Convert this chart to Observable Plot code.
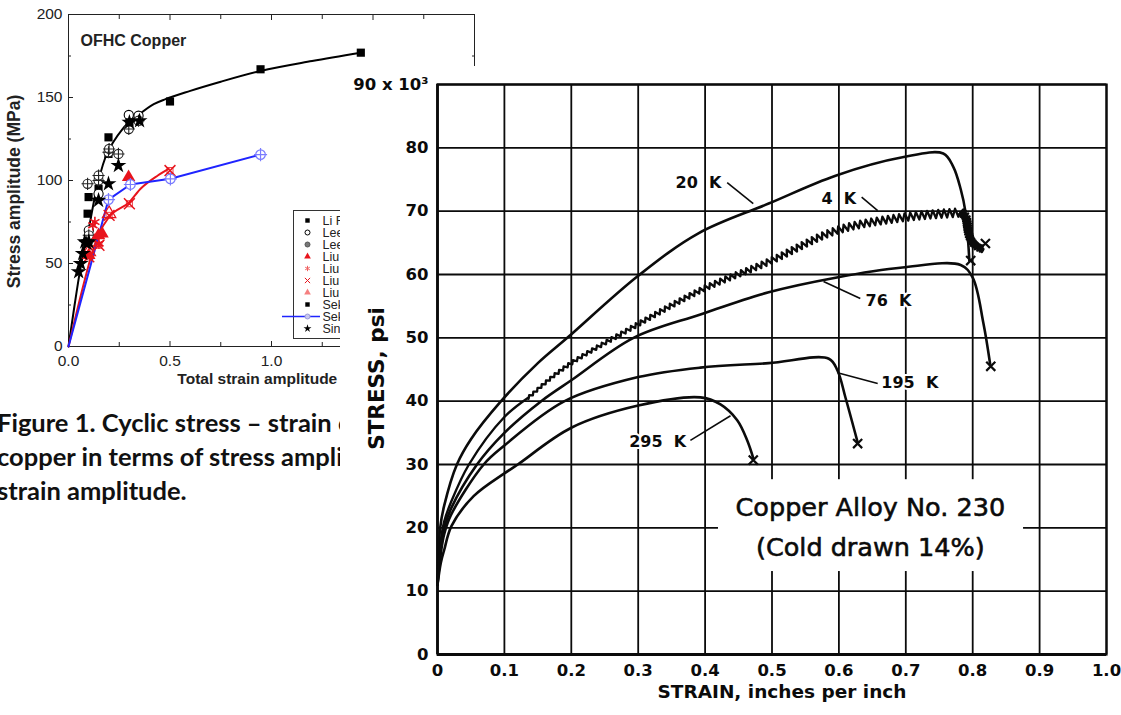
<!DOCTYPE html>
<html>
<head>
<meta charset="utf-8">
<script src="https://cdn.jsdelivr.net/npm/d3@7"></script>
<script src="https://cdn.jsdelivr.net/npm/@observablehq/plot@0.6"></script>
<style>
html,body{margin:0;padding:0;background:#fff;}
#root{position:relative;width:1121px;height:715px;overflow:hidden;background:#fff;}
#left{position:absolute;left:0;top:0;}
#legend{position:absolute;left:280px;top:210px;}
#caption{position:absolute;left:-3px;top:405px;width:343px;overflow:hidden;white-space:nowrap;
  font-family:Lato,'Open Sans',sans-serif;font-weight:bold;font-size:25.5px;line-height:34px;color:#111;}
#right{position:absolute;left:340px;top:66px;}
</style>
</head>
<body>
<div id="root">
  <div id="left"></div>
  <div id="legend"></div>
  <div id="caption">Figure 1. Cyclic stress – strain curves<br>copper in terms of stress amplitude<br>strain amplitude.</div>
  <div id="right"></div>
</div>
<script>
// ================= LEFT CHART (OFHC Copper) =================
const yMajorL = [0, 50, 100, 150, 200];
const yMinorL = [25, 75, 125, 175];
const xMajorL = [0, 0.5, 1.0, 1.5, 2.0];
const xMinorL = [0.25, 0.75, 1.25, 1.75];

// fitted curves
const blackFitX = [0, 0.03, 0.06, 0.1, 0.133, 0.182, 0.22, 0.266, 0.345, 0.42, 0.478, 0.6, 0.75, 0.946, 1.2, 1.44];
const blackFitY = [0, 25, 48, 71, 92, 114, 123, 131, 139.5, 146, 149, 154, 159.5, 166, 172, 177];
const redFitX = [0, 0.08, 0.12, 0.15, 0.2, 0.3, 0.355, 0.44, 0.493];
const redFitY = [0, 40, 58, 68, 78, 87, 95, 103, 107];

// data series
const liRX = [0.094, 0.099, 0.148, 0.197, 0.197];
const liRY = [80, 90, 95, 116, 126];
const leeOpenX = [0.1, 0.148, 0.297, 0.345];
const leeOpenY = [70, 92, 139.5, 139];
const leePlusX = [0.094, 0.1, 0.1, 0.148, 0.148, 0.197, 0.2, 0.246, 0.297, 0.345];
const leePlusY = [98, 64, 67, 100, 103, 117, 119, 116, 131, 136];
const liuTriX = [0.1, 0.148, 0.165, 0.296];
const liuTriY = [55, 67, 68, 102];
const liuClubX = [0.12, 0.13, 0.15];
const liuClubY = [73, 75, 62];
const liuXX = [0.1, 0.15, 0.2, 0.3, 0.5];
const liuXY = [54, 61, 79, 86, 106];
const liuOpenTriX = [0.1, 0.13, 0.2];
const liuOpenTriY = [57, 63, 80];
const sekSqX = [0.3, 0.5, 0.946, 1.44];
const sekSqY = [135, 147.6, 167, 177];
const sekBlueX = [0, 0.197, 0.305, 0.502, 0.946];
const sekBlueY = [0, 88.5, 97.6, 101, 115.6];
const singX = [0.05, 0.06, 0.07, 0.08, 0.09, 0.1, 0.148, 0.197, 0.246, 0.3, 0.35];
const singY = [45, 50, 56, 63, 62, 63, 88, 98, 109, 135, 136];

const legendLabels = ["Li R. et al.", "Lee et al.", "Lee et al.", "Liu et al.", "Liu et al.", "Liu et al.", "Liu et al.", "Sek et al.", "Sek et al.", "Singh et al."];

const pts = (xs, ys) => xs.map((x, i) => ({x, y: ys[i]}));

const RED = "#e8141c", BLUE = "#1f24ff", LBLUE = "#7a7cff";

const leftChart = Plot.plot({
  width: 480, height: 400,
  marginLeft: 68, marginRight: 6, marginTop: 14, marginBottom: 54,
  x: {domain: [0, 2]},
  y: {domain: [0, 200]},
  style: {fontFamily: "'Liberation Sans', Arial, sans-serif", fontSize: "15.5px", color: "#222", background: "transparent", overflow: "visible"},
  marks: [
    Plot.axisY(yMajorL, {anchor: "left", tickSize: -5, tickPadding: 11, label: null, tickFormat: d => String(d)}),
    Plot.axisY(yMajorL, {anchor: "right", tickSize: -5, fill: "none", label: null}),
    Plot.axisY(yMinorL, {anchor: "left", tickSize: -3, fill: "none", label: null}),
    Plot.axisY(yMinorL, {anchor: "right", tickSize: -3, fill: "none", label: null}),
    Plot.axisX(xMajorL, {anchor: "bottom", tickSize: -5, tickPadding: 13, label: null, tickFormat: d => d.toFixed(1)}),
    Plot.axisX(xMajorL, {anchor: "top", tickSize: -5, fill: "none", label: null}),
    Plot.axisX(xMinorL, {anchor: "bottom", tickSize: -4, fill: "none", label: null}),
    Plot.axisX(xMinorL, {anchor: "top", tickSize: -4, fill: "none", label: null}),
    Plot.frame({stroke: "#222"}),
    Plot.text(["OFHC Copper"], {frameAnchor: "top-left", dx: 12, dy: 20, textAnchor: "start", fontWeight: "bold", fontSize: 16}),
    Plot.text(["Stress amplitude (MPa)"], {frameAnchor: "left", textAnchor: "middle", dx: -54, dy: 11, rotate: -90, fontWeight: "bold", fontSize: 17.5}),
    Plot.text(["Total strain amplitude (%)"], {frameAnchor: "bottom", dy: 37, fontWeight: "bold", fontSize: 15.5}),
    // fitted lines
    Plot.line(pts(blackFitX, blackFitY), {x: "x", y: "y", stroke: "#000", strokeWidth: 2, curve: "monotone-x"}),
    Plot.line(pts(redFitX, redFitY), {x: "x", y: "y", stroke: RED, strokeWidth: 2, curve: "monotone-x"}),
    Plot.line(pts(sekBlueX, sekBlueY), {x: "x", y: "y", stroke: BLUE, strokeWidth: 2}),
    // data
    Plot.dot(pts(liRX, liRY), {x: "x", y: "y", symbol: "square", fill: "#000", r: 4.6}),
    Plot.dot(pts(leeOpenX, leeOpenY), {x: "x", y: "y", symbol: "circle", stroke: "#000", fill: "white", r: 4.6, strokeWidth: 1.1}),
    Plot.dot(pts(leePlusX, leePlusY), {x: "x", y: "y", symbol: "circle", stroke: "#222", fill: "white", r: 4.6, strokeWidth: 1.1}),
    Plot.dot(pts(leePlusX, leePlusY), {x: "x", y: "y", symbol: "plus", stroke: "#222", r: 4, strokeWidth: 1.1}),
    Plot.dot(pts(liuTriX, liuTriY), {x: "x", y: "y", symbol: "triangle", fill: RED, r: 5}),
    Plot.dot(pts(liuClubX, liuClubY), {x: "x", y: "y", symbol: "asterisk", stroke: RED, r: 5, strokeWidth: 1.6}),
    Plot.dot(pts(liuXX, liuXY), {x: "x", y: "y", symbol: "times", stroke: RED, r: 5, strokeWidth: 1.5}),
    Plot.dot(pts(liuXX, liuXY), {x: "x", y: "y", symbol: "square", stroke: RED, fill: "none", r: 3.4, strokeWidth: 0.8}),
    Plot.dot(pts(liuOpenTriX, liuOpenTriY), {x: "x", y: "y", symbol: "triangle", stroke: RED, fill: "none", r: 5, strokeWidth: 1.2}),
    Plot.dot(pts(sekSqX, sekSqY), {x: "x", y: "y", symbol: "square", fill: "#000", r: 4.6}),
    Plot.dot(pts(sekBlueX, sekBlueY).filter(d => d.x > 0), {x: "x", y: "y", symbol: "circle", stroke: LBLUE, fill: "white", r: 4.8, strokeWidth: 1.2}),
    Plot.dot(pts(sekBlueX, sekBlueY).filter(d => d.x > 0), {x: "x", y: "y", symbol: "plus", stroke: LBLUE, r: 4.3, strokeWidth: 1.2}),
    Plot.dot(pts(singX, singY), {x: "x", y: "y", symbol: "star", fill: "#000", r: 5})
  ]
});
document.getElementById("left").appendChild(leftChart);

// legend (cut by the overlaid figure)
const legendRows = legendLabels.map((label, i) => ({i, label}));
const legendSym = [
  {i: 0, symbol: "square", fill: "#000", stroke: "none"},
  {i: 1, symbol: "circle", fill: "white", stroke: "#000"},
  {i: 2, symbol: "circle", fill: "#777", stroke: "#555"},
  {i: 3, symbol: "triangle", fill: RED, stroke: "none"},
  {i: 4, symbol: "asterisk", fill: "none", stroke: "#f06060"},
  {i: 5, symbol: "times", fill: "none", stroke: RED},
  {i: 6, symbol: "triangle", fill: "#f58080", stroke: "none"},
  {i: 7, symbol: "square", fill: "#000", stroke: "none"},
  {i: 8, symbol: "circle", fill: "#c8c8f0", stroke: "#9a9ad8"},
  {i: 9, symbol: "star", fill: "#000", stroke: "none"}
];
const legendLine = [8];
const legendChart = Plot.plot({
  width: 80, height: 128, margin: 0,
  y: {type: "point", domain: d3.range(10), padding: 0.55, axis: null},
  style: {fontFamily: "'Liberation Sans', Arial, sans-serif", fontSize: "12.5px", color: "#222", background: "white", overflow: "visible"},
  marks: [
    Plot.frame({insetLeft: 13, stroke: "#333"}),
    Plot.ruleY(legendLine, {y: d => d, stroke: BLUE, strokeWidth: 1.6, insetLeft: 2, insetRight: 40}),
    Plot.dot(legendSym, {y: "i", frameAnchor: "left", dx: 27, symbol: d => d.symbol, fill: d => d.fill, stroke: d => d.stroke, r: 2.5, strokeWidth: 1}),
    Plot.text(legendRows, {y: "i", text: "label", frameAnchor: "left", dx: 42, textAnchor: "start"})
  ]
});
document.getElementById("legend").appendChild(legendChart);

// ================= RIGHT CHART (Copper Alloy No. 230) =================
const xTicksR = [0, 0.1, 0.2, 0.3, 0.4, 0.5, 0.6, 0.7, 0.8, 0.9, 1.0];
const yTicksR = [0, 10, 20, 30, 40, 50, 60, 70, 80, 90];

const strain20K = [0, 0.004, 0.01, 0.029, 0.05, 0.095, 0.15, 0.194, 0.3, 0.39, 0.495, 0.595, 0.695, 0.756, 0.771, 0.782, 0.789, 0.795];
const stress20K = [11, 20, 23.5, 30, 34, 40, 46, 50, 59.8, 66.5, 71.2, 75.6, 78.5, 79.1, 77, 73.5, 70, 62.2];

const strain4K = [0, 0.005, 0.01, 0.02, 0.047, 0.1, 0.135, 0.194, 0.284, 0.393, 0.495, 0.595, 0.695, 0.782, 0.79, 0.795, 0.805, 0.816];
const stress4K = [11, 18, 21, 24, 30, 37.5, 40.5, 45.6, 51.2, 57.5, 62, 66.9, 69, 69.8, 69, 66, 64.5, 64];

const strain76K = [0, 0.005, 0.01, 0.02, 0.059, 0.1, 0.155, 0.2, 0.293, 0.393, 0.495, 0.595, 0.695, 0.782, 0.8, 0.816, 0.826];
const stress76K = [11, 17, 20, 23, 30, 35, 40, 43.3, 50, 53.7, 57.2, 59.5, 61.1, 61.5, 59.5, 52.3, 45.9];

const strain195K = [0, 0.005, 0.01, 0.02, 0.069, 0.1, 0.19, 0.3, 0.393, 0.495, 0.585, 0.598, 0.61, 0.628];
const stress195K = [11, 16, 19, 22, 30, 33, 40, 43.8, 45.3, 46, 46.7, 44.8, 40.5, 33.5];

const strain295K = [0, 0.005, 0.01, 0.021, 0.054, 0.1, 0.12, 0.2, 0.3, 0.393, 0.423, 0.448, 0.463, 0.472];
const stress295K = [11, 14.5, 16.5, 20.3, 25, 28.6, 30, 35.8, 39.3, 40.6, 39.5, 37, 33.8, 31];

const fractureX = [0.797, 0.819, 0.827, 0.628, 0.472];
const fractureY = [62.2, 64.9, 45.5, 33.3, 30.7];

const curveLabels = ["20 K", "4 K", "76 K", "195 K", "295 K"];
const curveLabelX = [0.39, 0.60, 0.674, 0.706, 0.329];
const curveLabelY = [74.5, 72, 55.9, 42.9, 33.5];
const leaderX1 = [0.433, 0.634, 0.632, 0.658, 0.378];
const leaderY1 = [74.5, 72.2, 56.2, 42.8, 33.8];
const leaderX2 = [0.472, 0.658, 0.577, 0.598, 0.438];
const leaderY2 = [71.2, 70.1, 58.9, 44.5, 37.7];

const boxLines = ["Copper Alloy No. 230", "(Cold drawn 14%)"];
const boxLineY = [23.2, 16.9];
const boxArea = [{x1: 0.42, x2: 0.876, y1: 13.1, y2: 27.6}];

// serrated (jerky flow) rendering of a smooth path: a drawing style, not data
function serrated(amp0, amp1, period) {
  return function(context) {
    let p;
    return {
      areaStart() {}, areaEnd() {},
      lineStart() { p = []; },
      point(x, y) { p.push([+x, +y]); },
      lineEnd() {
        const n = p.length;
        if (n < 2) return;
        const dense = [];
        for (let i = 0; i < n - 1; i++) {
          const p0 = p[Math.max(0, i - 1)], p1 = p[i], p2 = p[i + 1], p3 = p[Math.min(n - 1, i + 2)];
          for (let k = 0; k < 24; k++) {
            const t = k / 24, t2 = t * t, t3 = t2 * t;
            const f = (a, b, c, d) => 0.5 * (2 * b + (-a + c) * t + (2 * a - 5 * b + 4 * c - d) * t2 + (-a + 3 * b - 3 * c + d) * t3);
            dense.push([f(p0[0], p1[0], p2[0], p3[0]), f(p0[1], p1[1], p2[1], p3[1])]);
          }
        }
        dense.push(p[n - 1]);
        const cum = [0];
        for (let i = 1; i < dense.length; i++) cum.push(cum[i - 1] + Math.hypot(dense[i][0] - dense[i - 1][0], dense[i][1] - dense[i - 1][1]));
        const L = cum[cum.length - 1];
        let j = 0, sgn = 1, first = true;
        for (let s = 0; s <= L; s += period / 2) {
          while (j < cum.length - 2 && cum[j + 1] < s) j++;
          const seg = (cum[j + 1] - cum[j]) || 1;
          const u = (s - cum[j]) / seg;
          const [ax, ay] = dense[j], [bx, by] = dense[j + 1];
          const x = ax + (bx - ax) * u, y = ay + (by - ay) * u;
          const nx = -(by - ay) / seg, ny = (bx - ax) / seg;
          const a = (amp0 + (amp1 - amp0) * (s / L)) * sgn;
          if (first) { context.moveTo(x + nx * a, y + ny * a); first = false; }
          else context.lineTo(x + nx * a, y + ny * a);
          sgn = -sgn;
        }
        const last = p[n - 1];
        context.lineTo(last[0], last[1]);
      }
    };
  };
}

const series = (xs, ys) => xs.map((x, i) => ({x, y: ys[i]}));
const fourK = series(strain4K, stress4K);
const INK = "#0b0b0b";
const FONT = "'DejaVu Sans', Verdana, sans-serif";

const rightChart = Plot.plot({
  width: 781, height: 649,
  marginLeft: 97, marginRight: 15, marginTop: 18, marginBottom: 61,
  x: {domain: [0, 1.0]},
  y: {domain: [0, 90]},
  style: {fontFamily: FONT, fontSize: "16.5px", fontWeight: "bold", color: INK, background: "#fff", overflow: "visible"},
  marks: [
    Plot.gridX(xTicksR, {stroke: INK, strokeOpacity: 1, strokeWidth: 1.8}),
    Plot.gridY(yTicksR, {stroke: INK, strokeOpacity: 1, strokeWidth: 1.8}),
    Plot.axisY(yTicksR, {tickSize: 0, tickPadding: 9, label: null, tickFormat: d => d === 90 ? "90 x 10³" : String(d)}),
    Plot.axisX(xTicksR, {tickSize: 0, tickPadding: 10, label: null, tickFormat: d => d === 0 ? "0" : d.toFixed(1)}),
    Plot.frame({stroke: INK, strokeWidth: 2.2}),
    Plot.ruleY([0], {stroke: INK, strokeWidth: 3.2}),
    Plot.ruleX([0], {stroke: INK, strokeWidth: 2.6}),
    Plot.text(["STRESS, psi"], {frameAnchor: "left", textAnchor: "middle", dx: -60, dy: 9, rotate: -90, fontSize: 21.5}),
    Plot.text(["STRAIN, inches per inch"], {frameAnchor: "bottom", textAnchor: "middle", dx: 10, dy: 43, fontSize: 18.5}),
    // text box
    Plot.rect(boxArea, {x1: "x1", x2: "x2", y1: "y1", y2: "y2", fill: "#fff"}),
    Plot.text(boxLines, {x: 0.647, y: (d, i) => boxLineY[i], text: d => d, fontSize: 25.5, fontWeight: "normal", stroke: INK, strokeWidth: 0.6, fill: INK}),
    // curves
    Plot.line(series(strain20K, stress20K), {x: "x", y: "y", stroke: INK, strokeWidth: 2.6, curve: "catmull-rom"}),
    Plot.line(series(strain76K, stress76K), {x: "x", y: "y", stroke: INK, strokeWidth: 2.6, curve: "catmull-rom"}),
    Plot.line(series(strain195K, stress195K), {x: "x", y: "y", stroke: INK, strokeWidth: 2.6, curve: "catmull-rom"}),
    Plot.line(series(strain295K, stress295K), {x: "x", y: "y", stroke: INK, strokeWidth: 2.6, curve: "catmull-rom"}),
    Plot.line(fourK.filter(d => d.x <= 0.135), {x: "x", y: "y", stroke: INK, strokeWidth: 2.4, curve: "catmull-rom"}),
    Plot.line(fourK.filter(d => d.x >= 0.135 && d.x <= 0.782), {x: "x", y: "y", stroke: INK, strokeWidth: 2.3, curve: serrated(1.2, 4.2, 5.6)}),
    Plot.line(fourK.filter(d => d.x >= 0.782), {x: "x", y: "y", stroke: INK, strokeWidth: 2.5, curve: serrated(3.8, 3.2, 2.2)}),
    Plot.dot(series(fractureX, fractureY), {x: "x", y: "y", symbol: "times", r: 4.2, stroke: INK, strokeWidth: 2.2}),
    // labels
    Plot.link(curveLabels, {x1: (d, i) => leaderX1[i], y1: (d, i) => leaderY1[i], x2: (d, i) => leaderX2[i], y2: (d, i) => leaderY2[i], stroke: INK, strokeWidth: 1.6}),
    Plot.text(curveLabels, {x: (d, i) => curveLabelX[i], y: (d, i) => curveLabelY[i], text: d => d.replace(" ", "\u00a0\u00a0"), fontSize: 16, fill: INK, stroke: "#fff", strokeWidth: 4})
  ]
});
document.getElementById("right").appendChild(rightChart);
</script>
</body>
</html>
